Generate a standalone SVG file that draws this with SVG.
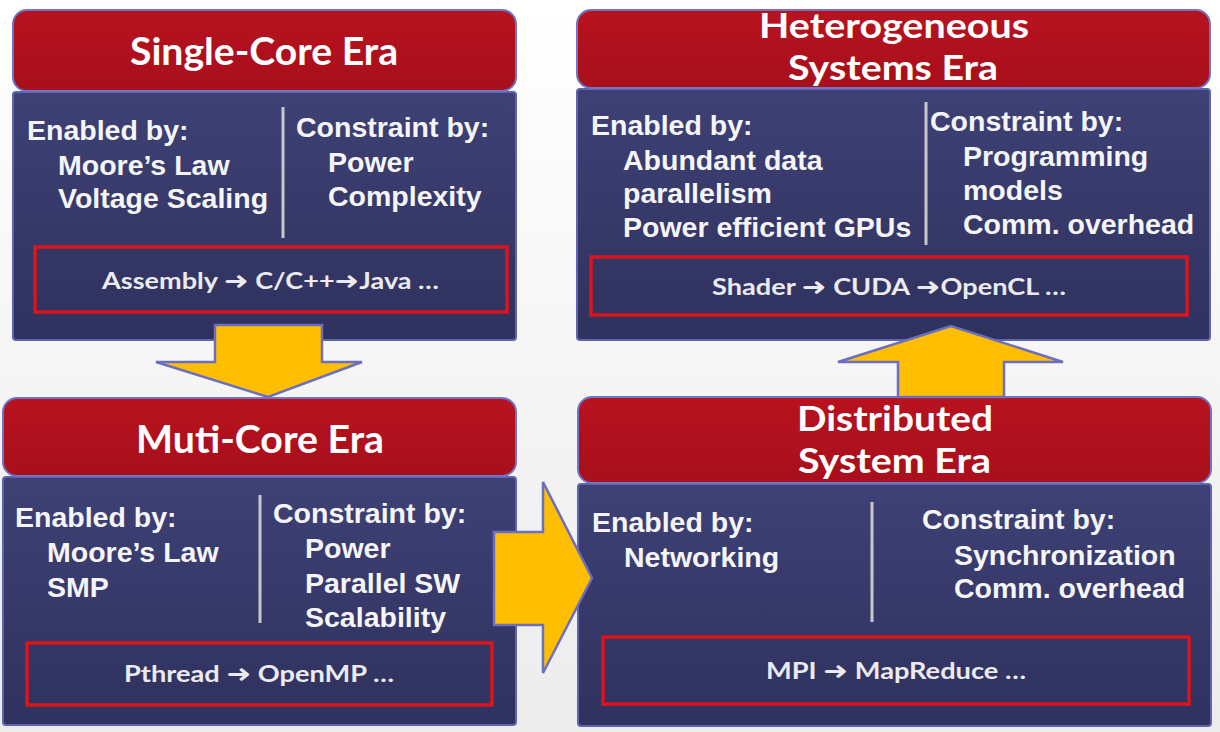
<svg xmlns="http://www.w3.org/2000/svg" width="1220" height="732" viewBox="0 0 1220 732">
<defs>
<linearGradient id="bg" x1="0" y1="0" x2="0" y2="1"><stop offset="0" stop-color="#ffffff"/><stop offset="1" stop-color="#ececec"/></linearGradient>
<linearGradient id="red" x1="0" y1="0" x2="0" y2="1"><stop offset="0" stop-color="#b8121f"/><stop offset="1" stop-color="#a80f1c"/></linearGradient>
<linearGradient id="navy" x1="0" y1="0" x2="0" y2="1"><stop offset="0" stop-color="#3e4175"/><stop offset="1" stop-color="#2f315e"/></linearGradient>
<style>
.hdr{fill:url(#red);stroke:#6f74c4;stroke-width:2}
.body{fill:url(#navy);stroke:#5f64ae;stroke-width:2}
.bar{fill:none;stroke:#dc141b;stroke-width:3.5}
.div{stroke:#c8c8cc;stroke-width:3}
.t{font-family:"Liberation Sans",Arial,sans-serif;font-weight:bold;font-size:28.5px;fill:#f5f5f7}
.h{font-family:Lato,"Open Sans",sans-serif;font-weight:bold;fill:#ffffff;text-anchor:start}
.h1{font-size:38px}
.h2{font-size:34px}
.b{font-family:Lato,"Open Sans","DejaVu Sans",sans-serif;font-weight:bold;font-size:22px;fill:#ebebef}
.ar{font-family:"DejaVu Sans",sans-serif;font-weight:bold;font-size:24px}
.arrow{fill:#ffbf00;stroke:#6b6fc2;stroke-width:2.5;stroke-linejoin:miter}
</style>
</defs>
<rect width="1220" height="732" fill="url(#bg)"/>

<g id="single-core">
<rect class="body" x="13" y="92" width="503" height="248" rx="3"/>
<rect class="hdr" x="13" y="10" width="503" height="81" rx="14"/>
<text class="h h1" x="130" y="65" textLength="268" lengthAdjust="spacingAndGlyphs">Single-Core Era</text>
<text class="t" x="27" y="140">Enabled by:</text>
<text class="t" x="58" y="175">Moore’s Law</text>
<text class="t" x="58" y="208">Voltage Scaling</text>
<line class="div" x1="283" y1="107" x2="283" y2="238"/>
<text class="t" x="296" y="137">Constraint by:</text>
<text class="t" x="328" y="172">Power</text>
<text class="t" x="328" y="206">Complexity</text>
<rect class="bar" x="35" y="247" width="472" height="65"/>
<text class="b" x="102" y="289" textLength="337" lengthAdjust="spacingAndGlyphs">Assembly <tspan class="ar">➜</tspan> C/C++<tspan class="ar">➜</tspan>Java …</text>
</g>

<g id="heterogeneous">
<rect class="body" x="577" y="89" width="633" height="251" rx="3"/>
<rect class="hdr" x="577" y="10" width="633" height="78" rx="14"/>
<text class="h h2" x="759" y="38" textLength="270" lengthAdjust="spacingAndGlyphs">Heterogeneous</text>
<text class="h h2" x="788" y="80" textLength="210" lengthAdjust="spacingAndGlyphs">Systems Era</text>
<text class="t" x="591" y="135">Enabled by:</text>
<text class="t" x="623" y="170">Abundant data</text>
<text class="t" x="623" y="203">parallelism</text>
<text class="t" x="623" y="237">Power efficient GPUs</text>
<line class="div" x1="926" y1="102" x2="926" y2="245"/>
<text class="t" x="930" y="131">Constraint by:</text>
<text class="t" x="963" y="166">Programming</text>
<text class="t" x="963" y="200">models</text>
<text class="t" x="963" y="234">Comm. overhead</text>
<rect class="bar" x="591" y="257" width="596" height="58"/>
<text class="b" x="712" y="295" textLength="354" lengthAdjust="spacingAndGlyphs">Shader <tspan class="ar">➜</tspan> CUDA <tspan class="ar">➜</tspan>OpenCL …</text>
</g>

<g id="multi-core">
<rect class="body" x="3" y="477" width="513" height="248" rx="3"/>
<rect class="hdr" x="3" y="398" width="513" height="78" rx="14"/>
<text class="h h1" x="136" y="453" textLength="248" lengthAdjust="spacingAndGlyphs">Muti-Core Era</text>
<text class="t" x="15" y="527">Enabled by:</text>
<text class="t" x="47" y="562">Moore’s Law</text>
<text class="t" x="47" y="597">SMP</text>
<line class="div" x1="260" y1="495" x2="260" y2="623"/>
<text class="t" x="273" y="523">Constraint by:</text>
<text class="t" x="305" y="558">Power</text>
<text class="t" x="305" y="593">Parallel SW</text>
<text class="t" x="305" y="627">Scalability</text>
<rect class="bar" x="27" y="643" width="465" height="62"/>
<text class="b" x="124" y="682" textLength="270" lengthAdjust="spacingAndGlyphs">Pthread <tspan class="ar">➜</tspan> OpenMP …</text>
</g>

<g id="distributed">
<rect class="body" x="578" y="484" width="633" height="242" rx="3"/>
<rect class="hdr" x="578" y="397" width="633" height="86" rx="14"/>
<text class="h h2" x="797" y="431" textLength="196" lengthAdjust="spacingAndGlyphs">Distributed</text>
<text class="h h2" x="798" y="473" textLength="193" lengthAdjust="spacingAndGlyphs">System Era</text>
<text class="t" x="592" y="532">Enabled by:</text>
<text class="t" x="624" y="567">Networking</text>
<line class="div" x1="872" y1="502" x2="872" y2="622"/>
<text class="t" x="922" y="529">Constraint by:</text>
<text class="t" x="954" y="565">Synchronization</text>
<text class="t" x="954" y="598">Comm. overhead</text>
<rect class="bar" x="603" y="637" width="586" height="67"/>
<text class="b" x="766" y="679" textLength="260" lengthAdjust="spacingAndGlyphs">MPI <tspan class="ar">➜</tspan> MapReduce …</text>
</g>

<g id="connectors">
<polygon class="arrow" points="215,325 322,325 322,362 362,362 268,397 156,362 215,362"/>
<polygon class="arrow" points="494,532 543,532 543,482 592,578 543,673 543,625 494,625"/>
<polygon class="arrow" points="898,397 898,362 838,362 951,326 1063,362 1004,362 1004,397"/>
</g>
</svg>
